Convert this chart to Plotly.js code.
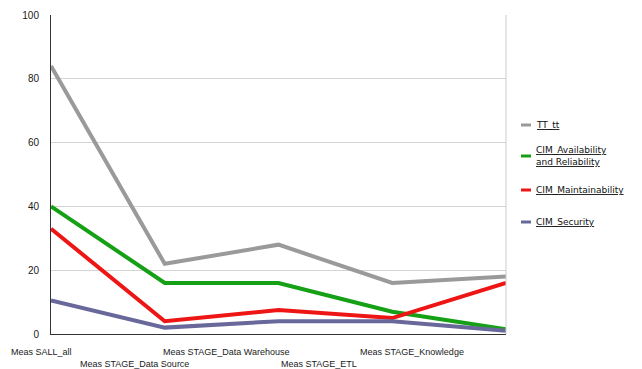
<!DOCTYPE html>
<html>
<head>
<meta charset="utf-8">
<script src="https://cdn.plot.ly/plotly-3.0.1.min.js"></script>
<style>html,body{margin:0;padding:0;background:#fff;}#chart{width:642px;height:369px;}</style>
</head>
<body>
<div id="chart"></div>
<script>
var categories = ["Meas SALL_all", "Meas STAGE_Data Source", "Meas STAGE_Data Warehouse", "Meas STAGE_ETL", "Meas STAGE_Knowledge"];
var seriesNames = ["TT_tt", "CIM_Availability<br>and Reliability", "CIM_Maintainability", "CIM_Security"];
var ttValues = [84, 22, 28, 16, 18];
var availabilityValues = [40, 16, 16, 7, 1.5];
var maintainabilityValues = [33, 4, 7.5, 5, 16];
var securityValues = [10.5, 2, 4, 4, 1];
var yTicks = [0, 20, 40, 60, 80, 100];

var colors = ["#9a9a9a", "#16a016", "#ee1515", "#68689a"];
var allValues = [ttValues, availabilityValues, maintainabilityValues, securityValues];
var idx = categories.map(function(c, i){ return i; });

var traces = allValues.map(function(vals, k){
  return {x: idx, y: vals, type: "scatter", mode: "lines", name: seriesNames[k],
    line: {color: colors[k], width: 4}, showlegend: false, hoverinfo: "y"};
});

var W = 642, H = 369, L = 51, R = 506, T = 15, B = 334;
function px(x){ return (x - L) / (R - L); }
function py(y){ return (B - y) / (B - T); }

var annotations = [];
var shapes = [];
var font = {family: "Liberation Sans, Arial, sans-serif", size: 10, color: "#1a1a1a"};
var labelFont = {family: "Liberation Sans, Arial, sans-serif", size: 9, color: "#1a1a1a"};
var labelCenters = [41, 134, 226, 319, 412];
categories.forEach(function(c, i){
  annotations.push({text: c, xref: "paper", yref: "paper", x: px(labelCenters[i]), y: py(i % 2 === 0 ? 352 : 364),
    xanchor: "center", yanchor: "middle", showarrow: false, font: labelFont});
});
var legendY = [[125], [150, 162], [190], [222]];
seriesNames.forEach(function(n, k){
  var ys = legendY[k];
  var mid = ys.length > 1 ? (ys[0] + ys[1]) / 2 : ys[0];
  shapes.push({type: "line", xref: "paper", yref: "paper", x0: px(521), x1: px(531), y0: py(mid), y1: py(mid),
    line: {color: colors[k], width: 3}});
  var lines = n.split("<br>");
  lines.forEach(function(t, j){
    annotations.push({text: "<u>" + t + "</u>", xref: "paper", yref: "paper", x: px(534), y: py(ys[j]),
      xanchor: "left", yanchor: "middle", showarrow: false,
      font: {family: "DejaVu Sans, sans-serif", size: 9, color: "#111"}});
  });
});
shapes.push({type: "line", xref: "paper", yref: "paper", x0: 1, x1: 1, y0: 0, y1: 1, line: {color: "#cccccc", width: 1}});

var layout = {
  width: W, height: H,
  margin: {l: L, r: W - R, t: T, b: H - B, pad: 0},
  paper_bgcolor: "#ffffff", plot_bgcolor: "#ffffff",
  showlegend: false,
  xaxis: {range: [0, categories.length - 1], showgrid: false, zeroline: false, showticklabels: false,
    showline: true, linecolor: "#333", linewidth: 1, ticks: "", fixedrange: true},
  yaxis: {range: [0, 100], tickvals: yTicks, ticktext: yTicks.map(String), showgrid: true, gridcolor: "#d4d4d4",
    gridwidth: 1, zeroline: false, showline: true, linecolor: "#333", linewidth: 1, ticks: "",
    ticklabelstandoff: 9, tickfont: font, fixedrange: true},
  annotations: annotations,
  shapes: shapes
};
Plotly.newPlot("chart", traces, layout, {displayModeBar: false, staticPlot: true});
</script>
</body>
</html>
